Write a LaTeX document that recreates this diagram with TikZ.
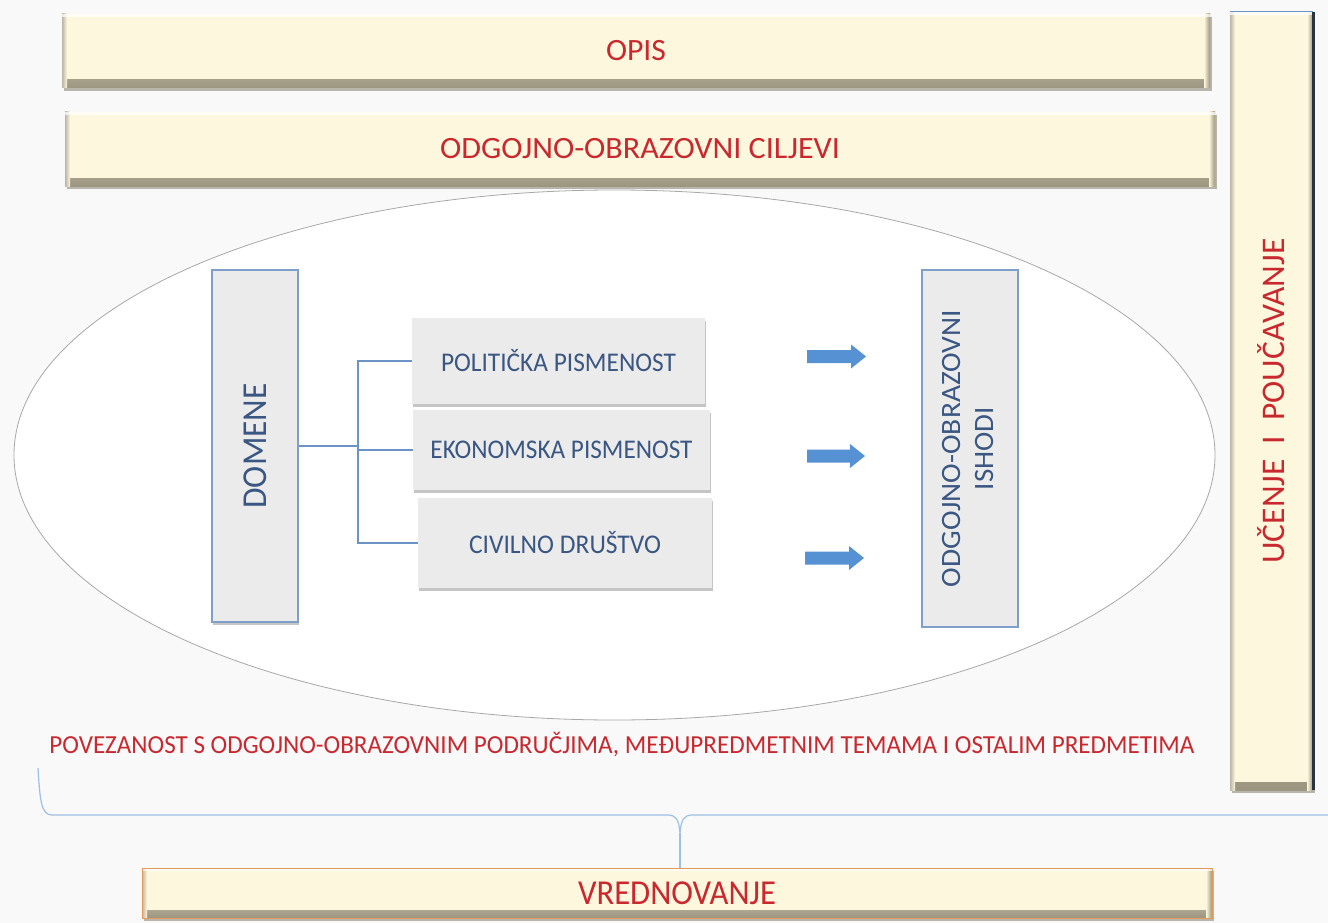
\documentclass[tikz,border=0pt]{standalone}
\usepackage{fontspec}
\setmainfont{Carlito}
\usepackage{graphicx}
\usetikzlibrary{shapes.geometric,shadows}
\definecolor{bgc}{HTML}{F9F9F9}
\definecolor{creamc}{HTML}{FDF7DD}
\definecolor{bevdark}{HTML}{9C9580}
\definecolor{shadowc}{HTML}{8E887A}
\definecolor{redc}{HTML}{C8282E}
\definecolor{navyc}{HTML}{3A5683}
\definecolor{boxc}{HTML}{EBEBEB}
\definecolor{bordc}{HTML}{7F9FCB}
\definecolor{connc}{HTML}{6B93C5}
\definecolor{arrowc}{HTML}{5591D3}
\definecolor{bracec}{HTML}{9DC0E4}
\definecolor{ellc}{HTML}{A8A8A8}
\definecolor{orangec}{HTML}{E39A5A}
\definecolor{edgec}{HTML}{2A3440}
\newcommand{\fitw}[2]{\resizebox{#1pt}{\height}{#2}}
\newcommand{\barrow}[3]{\fill[arrowc] ({#1},{#3-6.5}) -- ({#2-15},{#3-6.5}) -- ({#2-15},{#3-12}) -- ({#2},{#3}) -- ({#2-15},{#3+12}) -- ({#2-15},{#3+6.5}) -- ({#1},{#3+6.5}) -- cycle;}
\begin{document}
\begin{tikzpicture}[x=1pt,y=-1pt,
  bar/.style={rectangle, inner sep=0, fill=creamc, text=redc,
    drop shadow={shadow xshift=2pt, shadow yshift=-3pt, fill=shadowc, opacity=0.6},
    path picture={
      \shade[top color=creamc, bottom color=bevdark] ([yshift=8pt]path picture bounding box.south west) rectangle (path picture bounding box.south east);
      \shade[left color=creamc, right color=bevdark] ([xshift=-6pt]path picture bounding box.south east) rectangle (path picture bounding box.north east);
      \shade[left color=bevdark!70, right color=creamc] (path picture bounding box.south west) rectangle ([xshift=5pt]path picture bounding box.north west);
      \fill[white, opacity=.7] (path picture bounding box.north west) rectangle ([yshift=-3pt]path picture bounding box.north east);
    }},
  gbox/.style={rectangle, inner sep=0, fill=boxc, text=navyc,
    font=\fontsize{27}{27}\selectfont,
    drop shadow={shadow xshift=1pt, shadow yshift=-3pt, fill=black!45, opacity=0.5}},
  bbox/.style={gbox, draw=bordc, line width=1.5pt},
  conn/.style={draw=connc, line width=1.2pt},
  bracel/.style={draw=bracec, line width=1.2pt}]
\fill[bgc] (0,0) rectangle (1328,923);
\useasboundingbox (0,0) rectangle (1328,923);

% ellipse
\node[ellipse, draw=ellc, line width=0.8pt, fill=white, minimum width=1201pt, minimum height=530pt, inner sep=0] (ell) at (614.5,455) {};

% bars
\node[bar, minimum width=1148pt, minimum height=74pt, font=\fontsize{31}{31}\selectfont] (opis) at (636,51) {\fitw{60}{OPIS}};
\node[bar, minimum width=1150pt, minimum height=74pt, font=\fontsize{31}{31}\selectfont] (cilj) at (640,149) {\fitw{400}{ODGOJNO-OBRAZOVNI CILJEVI}};
\node[bar, minimum width=83pt, minimum height=778pt, font=\fontsize{33}{33}\selectfont] (ucen) at (1271.5,401) {\rotatebox{90}{\fitw{325}{UČENJE\ \ I\ \ POUČAVANJE}}};
\draw[edgec, line width=3pt] (ucen.north east) -- (ucen.south east);
\draw[connc, line width=1.2pt] (ucen.north west) -- (ucen.north east);
\node[bar, draw=orangec, line width=1pt, minimum width=1070pt, minimum height=50pt, font=\fontsize{35}{35}\selectfont] (vred) at (677,893) {\fitw{198}{VREDNOVANJE}};

% inner boxes
\node[bbox, minimum width=86pt, minimum height=352pt, font=\fontsize{35}{35}\selectfont] (dom) at (255,446) {\rotatebox{90}{\fitw{125}{DOMENE}}};
\node[gbox, minimum width=293pt, minimum height=86pt] (pol) at (558.5,361) {\fitw{235}{POLITIČKA PISMENOST}};
\node[gbox, minimum width=297pt, minimum height=80pt] (eko) at (561.5,450) {\fitw{262}{EKONOMSKA PISMENOST}};
\node[gbox, minimum width=294pt, minimum height=90pt] (civ) at (565,543) {\fitw{192}{CIVILNO DRUŠTVO}};
\node[rectangle, inner sep=0, fill=boxc, draw=bordc, line width=1.3pt, text=navyc, minimum width=96pt, minimum height=357pt, font=\fontsize{28}{33}\selectfont] (ishodi) at (970,448.5) {\rotatebox{90}{\begin{tabular}{@{}c@{}}\fitw{277}{ODGOJNO-OBRAZOVNI}\\\fitw{83}{ISHODI}\end{tabular}}};

% connectors
\coordinate (j) at (358,446);
\draw[conn] (dom.east) -- (j);
\draw[conn] (j) |- (pol.west);
\draw[conn] (j) |- (eko.west);
\draw[conn] (j) |- (civ.west);

% block arrows
\barrow{807}{866}{356.5}
\barrow{807}{865}{456}
\barrow{805}{864}{558}

% bottom text
\node[text=redc, font=\fontsize{26}{26}\selectfont, inner sep=0] (pov) at (622,745) {\fitw{1145}{POVEZANOST S ODGOJNO-OBRAZOVNIM PODRUČJIMA, MEĐUPREDMETNIM TEMAMA I OSTALIM PREDMETIMA}};

% brace
\coordinate (bl) at (38,768);
\coordinate (br) at (1328,815);
\coordinate (btip) at (680,833);
\draw[bracel] (bl) .. controls (40,800) and (41,815) .. (52,815) -- (668,815) .. controls (676,815) and (679,820) .. (btip) .. controls (681,820) and (684,815) .. (692,815) -- (br);
\draw[bracel] (btip) -- (btip |- vred.north);
\end{tikzpicture}
\end{document}
